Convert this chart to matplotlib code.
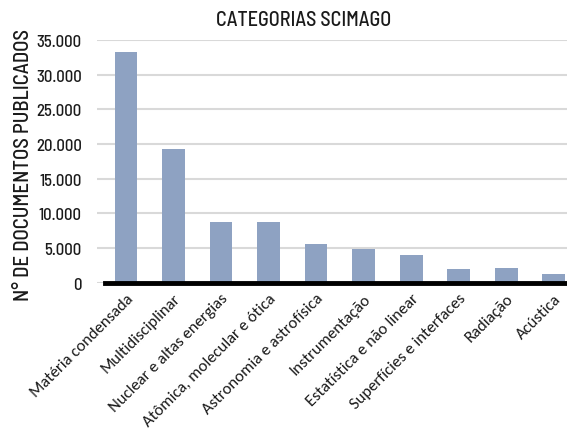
import matplotlib.pyplot as plt
from matplotlib.ticker import FuncFormatter

categorias = [
    "Matéria condensada",
    "Multidisciplinar",
    "Nuclear e altas energias",
    "Atômica, molecular e ótica",
    "Astronomia e astrofísica",
    "Instrumentação",
    "Estatística e não linear",
    "Superfícies e interfaces",
    "Radiação",
    "Acústica",
]
documentos = [33300, 19300, 8700, 8700, 5600, 4900, 4050, 1900, 2050, 1200]
yticks = [0, 5000, 10000, 15000, 20000, 25000, 30000, 35000]

# fonte condensada tipo DIN, com fallback
narrow = ["Barlow Semi Condensed", "Roboto Condensed", "Liberation Sans Narrow", "DejaVu Sans"]
calibri = ["Carlito", "Lato", "DejaVu Sans"]
texto = "#1a1a1a"

fig = plt.figure(figsize=(5.67, 4.35), dpi=100)
ax = fig.add_axes([0.171, 0.348, 0.829, 0.558])

x = range(len(categorias))
ax.bar(x, documentos, width=0.48, color="#8ea2c2", zorder=3)

ax.set_ylim(0, 35000)
ax.set_xlim(-0.61, 9.28)
ax.set_yticks(yticks)
ax.yaxis.set_major_formatter(FuncFormatter(lambda v, p: f"{int(v):,}".replace(",", ".")))
ax.grid(axis="y", color="#d9d9d9", linewidth=1.5, zorder=0)
ax.tick_params(axis="y", length=0, pad=11, labelsize=12, labelcolor=texto)
ax.tick_params(axis="x", length=0, pad=6)
for lab in ax.get_yticklabels():
    lab.set_family(narrow)
    lab.set_fontweight("medium")

ax.set_xticks(list(x))
ax.set_xticklabels(categorias, rotation=45, ha="right", rotation_mode="anchor",
                   fontsize=12, family=calibri, color=texto)

for s in ["top", "right", "left"]:
    ax.spines[s].set_visible(False)
ax.spines["bottom"].set_linewidth(3.5)
ax.spines["bottom"].set_color("black")
ax.spines["bottom"].set_bounds(-0.45, 9.28)
ax.spines["bottom"].set_zorder(4)

fig.text(0.042, 0.62, "N° DE DOCUMENTOS PUBLICADOS", rotation=90, ha="center", va="center",
         fontsize=15, family=narrow, fontweight="medium", color=texto)
fig.text(0.536, 0.953, "CATEGORIAS SCIMAGO", ha="center", va="center",
         fontsize=14.5, family=narrow, fontweight="medium", color=texto)

fig.savefig("out.png", dpi=100)
